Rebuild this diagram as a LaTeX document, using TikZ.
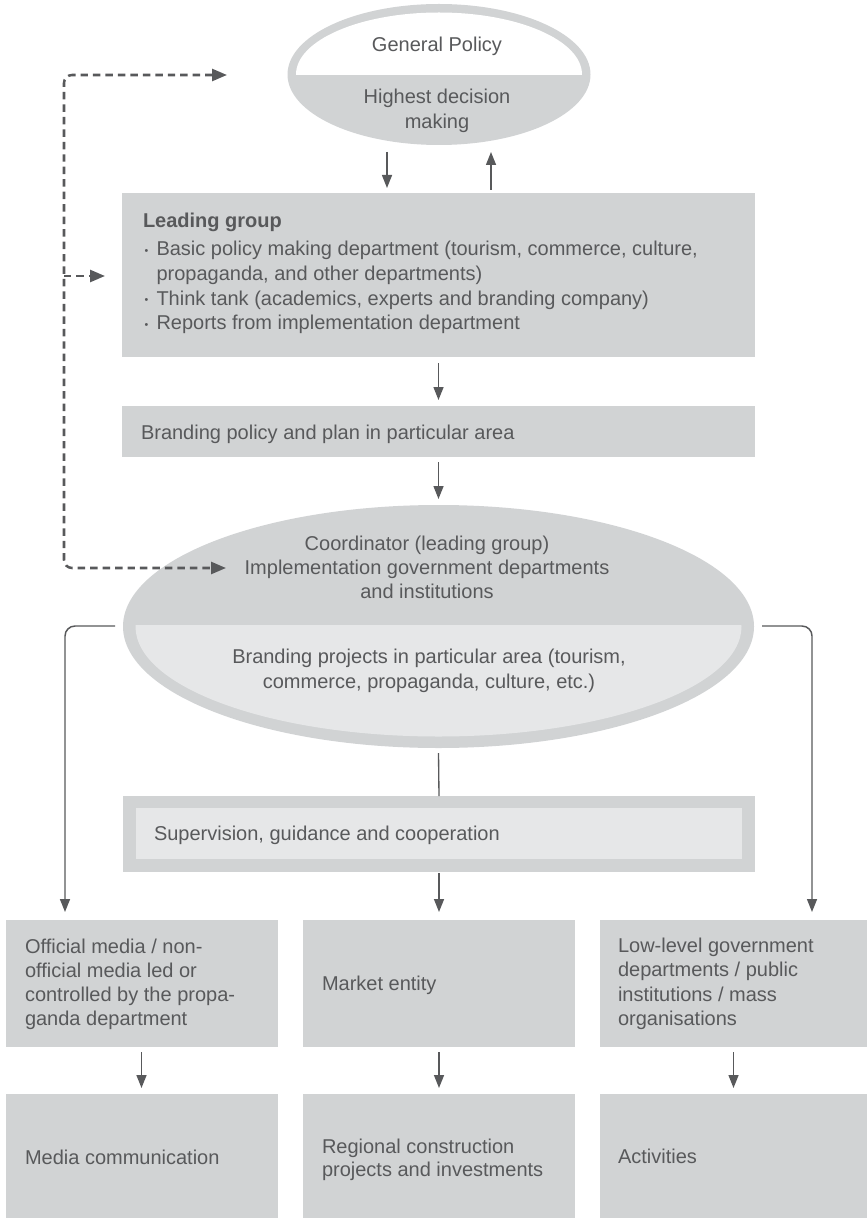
\documentclass[tikz,border=0pt]{standalone}
\usepackage{fontspec}
\setmainfont{Liberation Sans}
\usetikzlibrary{arrows.meta,calc,shapes.geometric}
\definecolor{boxgray}{HTML}{D1D3D4}
\definecolor{lightfill}{HTML}{E6E7E8}
\definecolor{txtgray}{HTML}{58595B}
\definecolor{linegray}{HTML}{58595B}
\newcommand\lefttab[1]{\begin{tabular}[t]{@{}l@{}}#1\end{tabular}}
\newcommand\centab[1]{\begin{tabular}[t]{@{}c@{}}#1\end{tabular}}
\newcommand\lgbullet{\makebox[9pt][l]{\raisebox{1.2pt}{\fontsize{8pt}{8pt}\selectfont •}}}
\tikzset{
  grbox/.style={rectangle, fill=boxgray, draw=none, inner sep=0pt, outer sep=0pt},
  ltbox/.style={rectangle, fill=lightfill, draw=none, inner sep=0pt, outer sep=0pt},
  grell/.style={ellipse, fill=boxgray, draw=none, inner sep=0pt, outer sep=0pt},
  txt/.style={inner sep=0pt, outer sep=0pt, text=txtgray, font=\fontsize{15pt}{18.2pt}\selectfont},
  arr/.style={draw=linegray, line width=1.1pt, -{Triangle[length=9.75pt,width=7.5pt]}},
  conn/.style={draw=linegray, line width=1pt},
  dsh/.style={draw=linegray, line width=1.9pt, dash pattern=on 5.6pt off 3.75pt},
}
\begin{document}
\begin{tikzpicture}[x=0.75pt,y=-0.75pt]
\useasboundingbox (0,0) rectangle (867,1219);

% ---- top ellipse
\node[grell, minimum width=227.25pt, minimum height=105.75pt] (topell) at (439,74.5) {};
\begin{scope}
  \clip (280,0) rectangle (600,75);
  \fill[white] (topell.center) ellipse [x radius=107.25pt, y radius=46.5pt];
\end{scope}
\node[txt, anchor=base] (gp) at (437,51.7) {General Policy};
\node[txt, anchor=base] (hdm) at (437,104) {\centab{Highest decision\\making}};

% ---- leading group
\node[grbox, minimum width=474.75pt, minimum height=123pt] (lead) at (438.5,275) {};
\node[txt, anchor=base west, font=\fontsize{15pt}{18.2pt}\selectfont\bfseries] (lghead) at (143,228) {Leading group};
\node[txt, anchor=base west, font=\fontsize{15pt}{18.5pt}\selectfont] (lgitems) at (144.5,256) {\lefttab{\lgbullet Basic policy making department (tourism, commerce, culture,\\ \hspace*{9pt}propaganda, and other departments)\\ \lgbullet Think tank (academics, experts and branding company)\\ \lgbullet Reports from implementation department}};

% ---- branding policy
\node[grbox, minimum width=474.75pt, minimum height=38.25pt] (brand) at (438.5,431.5) {};
\node[txt, anchor=base west] (brandtxt) at (141,439.3) {Branding policy and plan in particular area};

% ---- big ellipse
\node[grell, minimum width=473.25pt, minimum height=182.25pt] (big) at (438.5,626.5) {};
\begin{scope}
  \clip (100,625.5) rectangle (780,760);
  \fill[lightfill] (big.center) ellipse [x radius=227.25pt, y radius=82.5pt];
\end{scope}
\node[txt, anchor=base, font=\fontsize{15pt}{18pt}\selectfont] (coordtxt) at (427,550) {\centab{Coordinator (leading group)\\Implementation government departments\\and institutions}};
\node[txt, anchor=base, font=\fontsize{15pt}{18.75pt}\selectfont] (projtxt) at (429,663) {\centab{Branding projects in particular area (tourism,\\commerce, propaganda, culture, etc.)}};

% ---- supervision
\node[grbox, minimum width=474pt, minimum height=57pt] (supo) at (439,834) {};
\node[ltbox, minimum width=454.5pt, minimum height=38.25pt] (supi) at (439,833.5) {};
\node[txt, anchor=base west] (suptxt) at (154,840) {Supervision, guidance and cooperation};

% ---- row 1
\node[grbox, minimum width=204pt, minimum height=95.25pt] (b1) at (141.5,983.5) {};
\node[grbox, minimum width=204pt, minimum height=95.25pt] (b2) at (439,983.5) {};
\node[grbox, minimum width=200.25pt, minimum height=95.25pt] (b3) at (733.5,983.5) {};
\node[txt, anchor=base west] (b1txt) at (25,953) {\lefttab{Official media / non-\\official media led or\\controlled by the propa-\\ganda department}};
\node[txt, anchor=base west] (b2txt) at (322,990) {Market entity};
\node[txt, anchor=base west] (b3txt) at (618,952.7) {\lefttab{Low-level government\\departments / public\\institutions / mass\\organisations}};

% ---- row 2
\node[grbox, minimum width=204pt, minimum height=93pt] (c1) at (141.5,1156) {};
\node[grbox, minimum width=204pt, minimum height=93pt] (c2) at (439,1156) {};
\node[grbox, minimum width=200.25pt, minimum height=93pt] (c3) at (733.5,1156) {};
\node[txt, anchor=base west] (c1txt) at (25,1164) {Media communication};
\node[txt, anchor=base west, font=\fontsize{15pt}{17.55pt}\selectfont] (c2txt) at (322,1153.3) {\lefttab{Regional construction\\projects and investments}};
\node[txt, anchor=base west] (c3txt) at (618,1163.3) {Activities};

% ---- solid connectors
\draw[arr] ($(topell.south)+(-52,7)$) -- ($(lead.north)+(-51.5,-5)$);
\draw[arr] ($(lead.north)+(52.5,-3)$) -- ($(topell.south)+(52,7)$);
\draw[arr] ($(lead.south)+(0,6)$) -- ($(brand.north)+(0,-6)$);
\draw[arr] ($(brand.south)+(0,5)$) -- ($(big.north)+(0,-6)$);
\draw[arr, rounded corners=7.5pt] ($(big.west)+(-8,-0.5)$) -| ($(b1.north west)+(59.5,-8)$);
\draw[arr, rounded corners=7.5pt] ($(big.east)+(8,-0.5)$) -| ($(b3.north west)+(212,-8)$);
\draw[conn] ($(big.south)+(0,5)$) -- (supo.north);
\draw[arr] ($(supo.south)+(0,1)$) -- ($(b2.north)+(0,-8)$);
\draw[arr] ($(b1.south)+(0,5)$) -- ($(c1.north)+(0,-6)$);
\draw[arr] ($(b2.south)+(0,5)$) -- ($(c2.north)+(0,-6)$);
\draw[arr] ($(b3.south)+(0,5)$) -- ($(c3.north)+(0,-6)$);

% ---- dashed feedback connectors
\coordinate (dT) at (227,75);
\coordinate (dTL) at (64,75);
\coordinate (dBL) at (64,568);
\coordinate (dB) at (226,568);
\coordinate (dML) at (64,276);
\coordinate (dM) at (105,276);
\draw[dsh, {Triangle[length=11.25pt,width=9pt]}-{Triangle[length=11.25pt,width=9pt]}, rounded corners=6pt] (dT) -- (dTL) -- (dBL) -- (dB);
\draw[dsh, -{Triangle[length=11.25pt,width=9pt]}] (dML) -- (dM);
\end{tikzpicture}
\end{document}
